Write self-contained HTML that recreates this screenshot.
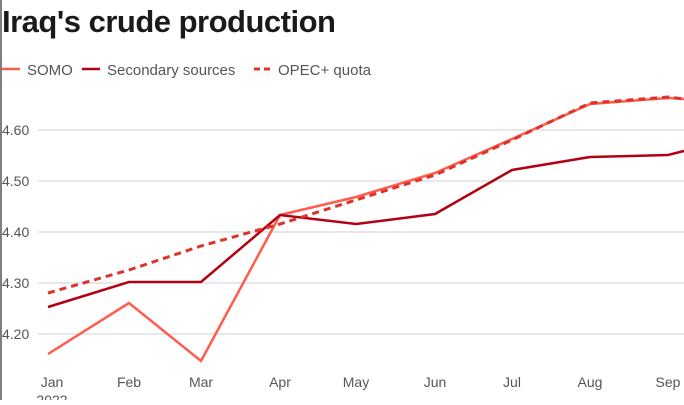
<!DOCTYPE html><html><head><style>body{margin:0;background:#fff;width:684px;height:400px;overflow:hidden;font-family:"Liberation Sans",sans-serif}</style></head><body>
<svg width="684" height="400" xmlns="http://www.w3.org/2000/svg">
<line x1="1" y1="0" x2="1" y2="400" stroke="#555" stroke-width="1.5"/>
<text x="2" y="32" font-size="31" font-weight="bold" fill="#1a1a1a" letter-spacing="-0.5">Iraq's crude production</text>
<line x1="2" y1="69" x2="20" y2="69" stroke="#ff5c4d" stroke-width="2.5"/>
<text x="27" y="75" font-size="15" fill="#555">SOMO</text>
<line x1="82" y1="69" x2="100" y2="69" stroke="#b30012" stroke-width="2.5"/>
<text x="107" y="75" font-size="15" fill="#555">Secondary sources</text>
<line x1="254" y1="69" x2="270" y2="69" stroke="#e0312a" stroke-width="3" stroke-dasharray="6,4"/>
<text x="278" y="75" font-size="15" fill="#555">OPEC+ quota</text>
<g stroke="#d0d0d0" stroke-width="1">
<line x1="38" y1="130" x2="684" y2="130"/><line x1="38" y1="181" x2="684" y2="181"/><line x1="38" y1="232" x2="684" y2="232"/><line x1="38" y1="283" x2="684" y2="283"/><line x1="38" y1="334" x2="684" y2="334"/></g>
<g font-size="14" fill="#555"><text x="2" y="135">4.60</text><text x="2" y="186">4.50</text><text x="2" y="237">4.40</text><text x="2" y="288">4.30</text><text x="2" y="339">4.20</text></g>
<g font-size="14" fill="#555" text-anchor="middle"><text x="52" y="387">Jan</text><text x="129" y="387">Feb</text><text x="201" y="387">Mar</text><text x="280" y="387">Apr</text><text x="356" y="387">May</text><text x="435" y="387">Jun</text><text x="512" y="387">Jul</text><text x="590" y="387">Aug</text><text x="668" y="387">Sep</text><text x="52" y="405">2022</text></g>
<polyline fill="none" stroke="#ff5c4d" stroke-width="2.5" points="48,354 129,303 201,361 280,215 356,197 435,173 512,139 590,104 668,98 684,99"/>
<polyline fill="none" stroke="#b30012" stroke-width="2.5" points="48,307 129,282 201,282 280,215 356,224 435,214 512,170 590,157 668,155 684,151"/>
<polyline fill="none" stroke="#e0312a" stroke-width="3" stroke-dasharray="7,5" points="48,293 129,270 201,246 280,224 356,200 435,175 512,140 590,103 668,97 684,99"/>
</svg></body></html>
